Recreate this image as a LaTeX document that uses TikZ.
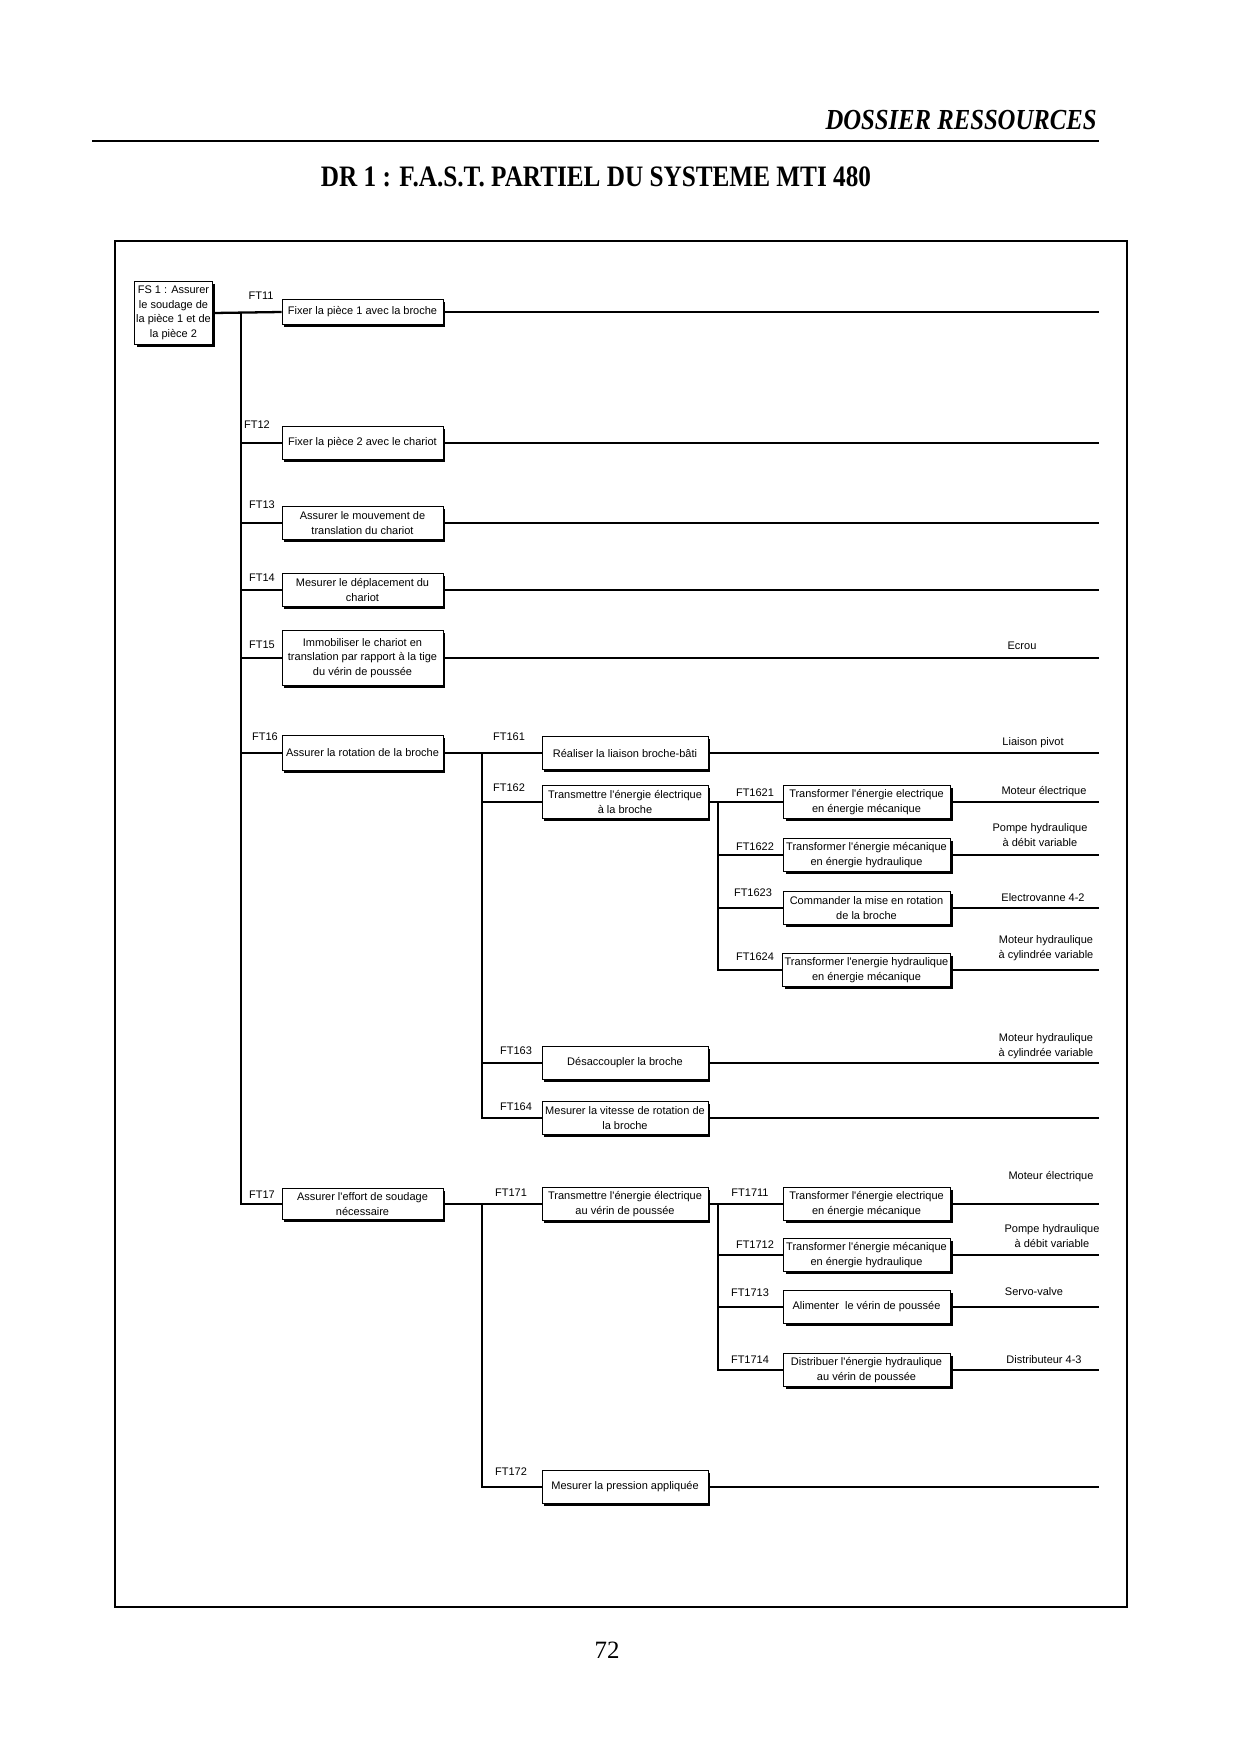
\documentclass[tikz,border=0pt]{standalone}
\usepackage{fontspec}
\setmainfont{Liberation Serif}
\newfontfamily\arialfont{Liberation Sans}
\newfontfamily\headfont[FakeStretch=0.85]{Liberation Serif}
\usetikzlibrary{shadows}

\def\pxu{0.4819pt}
\newcommand{\fastfont}{\arialfont\fontsize{5.3pt}{7pt}\selectfont}

\begin{document}
\begin{tikzpicture}[
    x=0.4819pt, y=-0.4819pt,
    fbox/.style={draw, line width=0.4pt, fill=white, font=\fastfont, align=center,
        inner sep=1pt, minimum height=33*\pxu,
        drop shadow={shadow xshift=1.2pt, shadow yshift=-1.2pt, fill=black, opacity=1}},
    lvA/.style={fbox, minimum width=161*\pxu},
    lvB/.style={fbox, minimum width=166*\pxu},
    lvC/.style={fbox, minimum width=167*\pxu},
    ftlbl/.style={font=\fastfont, inner sep=0pt},
    rlbl/.style={font=\fastfont, align=center, inner sep=0pt},
    link/.style={line width=1.1pt},
]
\useasboundingbox (0,0) rectangle (1240,1754);

% Page header
\node[font=\headfont\fontsize{14pt}{16pt}\selectfont\bfseries\itshape, anchor=east, inner sep=0pt]
    (head) at (1097,120) {DOSSIER RESSOURCES};
\draw[line width=1pt] (92,141) -- (1099,141);
\node[font=\headfont\fontsize{14.3pt}{16pt}\selectfont\bfseries]
    (title) at (596,177) {DR 1 : F.A.S.T. PARTIEL DU SYSTEME MTI 480};
\node[font=\fontsize{12pt}{14pt}\selectfont] (page) at (607,1650) {72};

% Frame
\draw[line width=0.8pt] (115,241) rectangle (1127,1607);

% Service function
\node[fbox, minimum width=77*\pxu, minimum height=63*\pxu] (fs1) at (173.5,313)
    {FS 1 : Assurer\\le soudage de\\la pièce 1 et de\\la pièce 2};

% Level 1
\node[lvA, minimum height=25*\pxu] (ft11) at (362.5,312) {Fixer la pièce 1 avec la broche};
\node[lvA] (ft12) at (362.5,443) {Fixer la pièce 2 avec le chariot};
\node[lvA] (ft13) at (362.5,523) {Assurer le mouvement de\\translation du chariot};
\node[lvA] (ft14) at (362.5,590) {Mesurer le déplacement du\\chariot};
\node[lvA, minimum height=55*\pxu] (ft15) at (362.5,658)
    {Immobiliser le chariot en\\translation par rapport à la tige\\du vérin de poussée};
\node[lvA, minimum height=35*\pxu] (ft16) at (362.5,753) {Assurer la rotation de la broche};
\node[lvA, minimum height=31*\pxu] (ft17) at (362.5,1204) {Assurer l'effort de soudage\\nécessaire};

% Level 2
\node[lvB] (ft161) at (625,753) {Réaliser la liaison broche-bâti};
\node[lvB] (ft162) at (625,802) {Transmettre l'énergie électrique\\à la broche};
\node[lvB] (ft163) at (625,1063) {Désaccoupler la broche};
\node[lvB] (ft164) at (625,1118) {Mesurer la vitesse de rotation de\\la broche};
\node[lvB] (ft171) at (625,1204) {Transmettre l'énergie électrique\\au vérin de poussée};
\node[lvB] (ft172) at (625,1487) {Mesurer la pression appliquée};

% Level 3
\node[lvC] (ft1621) at (866.5,802) {Transformer l'énergie electrique\\en énergie mécanique};
\node[lvC] (ft1622) at (866.5,855) {Transformer l'énergie mécanique\\en énergie hydraulique};
\node[lvC] (ft1623) at (866.5,908) {Commander la mise en rotation\\de la broche};
\node[lvC] (ft1624) at (866.5,970) {Transformer l'energie hydraulique\\en énergie mécanique};
\node[lvC] (ft1711) at (866.5,1204) {Transformer l'énergie electrique\\en énergie mécanique};
\node[lvC] (ft1712) at (866.5,1255) {Transformer l'énergie mécanique\\en énergie hydraulique};
\node[lvC] (ft1713) at (866.5,1307) {Alimenter\ \ le vérin de poussée};
\node[lvC] (ft1714) at (866.5,1370) {Distribuer l'énergie hydraulique\\au vérin de poussée};

% FT labels
\node[ftlbl] (l11) at (261,296) {FT11};
\node[ftlbl] (l12) at (257,425) {FT12};
\node[ftlbl] (l13) at (262,505) {FT13};
\node[ftlbl] (l14) at (262,578) {FT14};
\node[ftlbl] (l15) at (262,645) {FT15};
\node[ftlbl] (l16) at (265,737) {FT16};
\node[ftlbl] (l17) at (262,1195) {FT17};
\node[ftlbl] (l161) at (509,737) {FT161};
\node[ftlbl] (l162) at (509,788) {FT162};
\node[ftlbl] (l163) at (516,1051) {FT163};
\node[ftlbl] (l164) at (516,1107) {FT164};
\node[ftlbl] (l171) at (511,1193) {FT171};
\node[ftlbl] (l172) at (511,1472) {FT172};
\node[ftlbl] (l1621) at (755,793) {FT1621};
\node[ftlbl] (l1622) at (755,847) {FT1622};
\node[ftlbl] (l1623) at (753,893) {FT1623};
\node[ftlbl] (l1624) at (755,957) {FT1624};
\node[ftlbl] (l1711) at (750,1193) {FT1711};
\node[ftlbl] (l1712) at (755,1245) {FT1712};
\node[ftlbl] (l1713) at (750,1293) {FT1713};
\node[ftlbl] (l1714) at (750,1360) {FT1714};

% Solutions
\node[rlbl] (s15) at (1022,646) {Ecrou};
\node[rlbl] (s161) at (1033,743) {Liaison pivot};
\node[rlbl] (s1621) at (1044,792) {Moteur électrique};
\node[rlbl] (s1622) at (1040,835) {Pompe hydraulique\\à débit variable};
\node[rlbl] (s1623) at (1043,898) {Electrovanne 4-2};
\node[rlbl] (s1624) at (1046,948) {Moteur hydraulique\\à cylindrée variable};
\node[rlbl] (s163) at (1046,1046) {Moteur hydraulique\\à cylindrée variable};
\node[rlbl] (s1711) at (1051,1177) {Moteur électrique};
\node[rlbl] (s1712) at (1052,1236) {Pompe hydraulique\\à débit variable};
\node[rlbl] (s1713) at (1034,1292) {Servo-valve};
\node[rlbl] (s1714) at (1044,1360) {Distributeur 4-3};

% Trunks
\coordinate (tA) at (241,312);
\coordinate (tB) at (482,753);
\coordinate (tC) at (718,802);
\coordinate (tD) at (482,1204);
\coordinate (tE) at (718,1204);
\coordinate (rx) at (1099,0);

\draw[link] (fs1.east) -- (ft11.west);
\draw[link] (tA) |- (ft17.west);
\foreach \n in {12,13,14,15,16}
    \draw[link] (tA |- ft\n.west) -- (ft\n.west);

\draw[link] (ft16.east) -- (ft161.west);
\draw[link] (tB) |- (ft164.west);
\foreach \n in {162,163}
    \draw[link] (tB |- ft\n.west) -- (ft\n.west);

\draw[link] (ft162.east) -- (ft1621.west);
\draw[link] (tC) |- (ft1624.west);
\foreach \n in {1622,1623}
    \draw[link] (tC |- ft\n.west) -- (ft\n.west);

\draw[link] (ft17.east) -- (ft171.west);
\draw[link] (tD) |- (ft172.west);

\draw[link] (ft171.east) -- (ft1711.west);
\draw[link] (tE) |- (ft1714.west);
\foreach \n in {1712,1713}
    \draw[link] (tE |- ft\n.west) -- (ft\n.west);

% Lines to the right edge
\foreach \n in {11,12,13,14,15,161,1621,1622,1623,1624,163,164,1711,1712,1713,1714,172}
    \draw[link] (ft\n.east) -- (ft\n.east -| rx);

\end{tikzpicture}
\end{document}
